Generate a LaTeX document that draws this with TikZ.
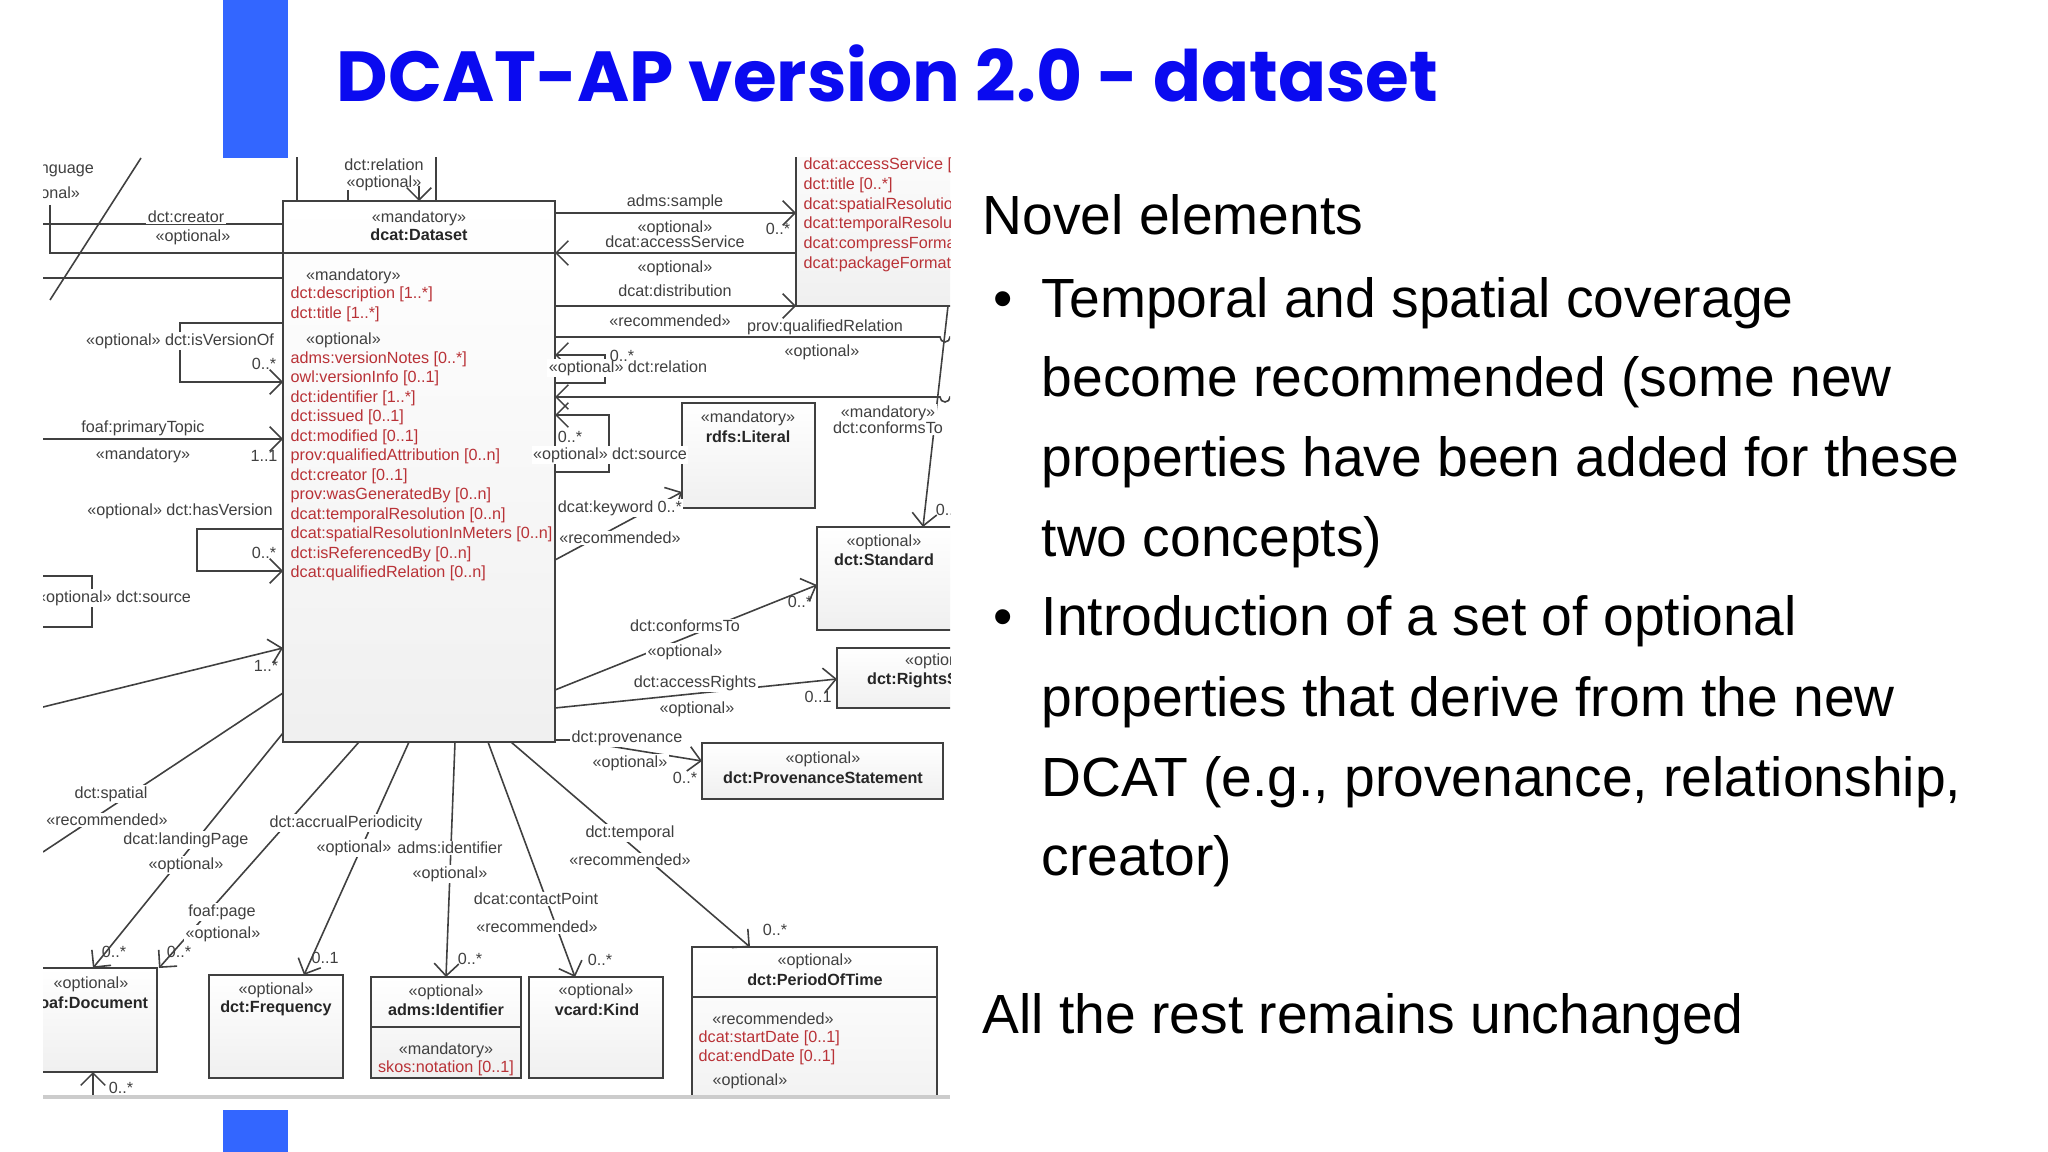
\documentclass[tikz,border=0pt]{standalone}
\usepackage{fontspec}
\usepackage{graphicx}
\setmainfont{Liberation Sans}
\newfontfamily\titlefont{Poppins}
\usetikzlibrary{arrows.meta}
\definecolor{barblue}{RGB}{51,102,255}
\definecolor{titleblue}{RGB}{10,10,240}
\definecolor{attrred}{RGB}{185,50,55}
\newcommand{\dfont}{\fontsize{4.6}{5}\selectfont}
\tikzset{
  ln/.style={draw=black!75, line width=0.45pt},
  ar/.style={-{Straight Barb[length=3.5pt,width=7pt]}},
  lb/.style={font=\dfont, text=black!75, inner sep=0.4pt},
  lbw/.style={lb, fill=white},
  bt/.style={font=\dfont\bfseries, text=black!85, inner sep=0.4pt},
  attr/.style={font=\dfont, text=attrred, anchor=west, inner sep=0},
  cls/.style={draw=black!75, line width=0.45pt, top color=white, bottom color=gray!12, inner sep=0},
  body/.style={font=\fontsize{15.7}{18}\selectfont, anchor=base west, inner sep=0}
}
\begin{document}
\begin{tikzpicture}[x=0.01cm,y=-0.01cm]
\useasboundingbox (0,0) rectangle (2048,1152);
\fill[white] (0,0) rectangle (2048,1152);
\fill[barblue] (223,0) rectangle (288,158);
\fill[barblue] (223,1110) rectangle (288,1152);
\node[anchor=base west, inner sep=0, text=titleblue] (title) at (336,102)
  {\resizebox{11.01cm}{!}{\titlefont\bfseries DCAT-AP version 2.0 - dataset}};

\begin{scope}
\clip (43,158) rectangle (950,1095);
% class boxes
\node[cls, minimum width=2.72cm, minimum height=5.41cm] (ds) at (419,471.5) {};
\draw[ln] (283,253) -- (555,253);
\node[cls, minimum width=1.84cm, minimum height=1.96cm] (dist) at (888,208) {};
\node[cls, minimum width=1.33cm, minimum height=1.05cm] (lit) at (748.5,455.5) {};
\node[cls, minimum width=1.73cm, minimum height=1.03cm] (std) at (903.5,578.5) {};
\node[cls, minimum width=1.63cm, minimum height=0.60cm] (rights) at (918.5,678) {};
\node[cls, minimum width=2.41cm, minimum height=0.56cm] (prov) at (822.5,771) {};
\node[cls, minimum width=2.45cm, minimum height=1.83cm] (pot) at (814.5,1038.5) {};
\draw[ln] (692,997) -- (937,997);
\node[cls, minimum width=1.34cm, minimum height=1.01cm] (kind) at (596,1027.5) {};
\node[cls, minimum width=1.50cm, minimum height=1.01cm] (ident) at (446,1027.5) {};
\draw[ln] (371,1027) -- (521,1027);
\node[cls, minimum width=1.34cm, minimum height=1.03cm] (freq) at (276,1026.5) {};
\node[cls, minimum width=1.37cm, minimum height=1.04cm] (doc) at (88.5,1020) {};

% dataset content
\node[lb] (dsst) at (419,218) {«mandatory»};
\node[bt] (dsname) at (419,235) {dcat:Dataset};
\node[lb, anchor=west] (m1) at (304,276) {«mandatory»};
\node[attr] (a1) at (290,294) {dct:description [1..*]};
\node[attr] (a2) at (290,314) {dct:title [1..*]};
\node[lb, anchor=west] (o1) at (304,340) {«optional»};
\node[attr] (a3) at (290,359) {adms:versionNotes [0..*]};
\node[attr] (a4) at (290,378) {owl:versionInfo [0..1]};
\node[attr] (a5) at (290,398) {dct:identifier [1..*]};
\node[attr] (a6) at (290,417) {dct:issued [0..1]};
\node[attr] (a7) at (290,437) {dct:modified [0..1]};
\node[attr] (a8) at (290,456) {prov:qualifiedAttribution [0..n]};
\node[attr] (a9) at (290,476) {dct:creator [0..1]};
\node[attr] (a10) at (290,495) {prov:wasGeneratedBy [0..n]};
\node[attr] (a11) at (290,515) {dcat:temporalResolution [0..n]};
\node[attr] (a12) at (290,534) {dcat:spatialResolutionInMeters [0..n]};
\node[attr] (a13) at (290,554) {dct:isReferencedBy [0..n]};
\node[attr] (a14) at (290,573) {dcat:qualifiedRelation [0..n]};

% distribution content
\node[attr] (d1) at (803,165) {dcat:accessService [0..*]};
\node[attr] (d2) at (803,185) {dct:title [0..*]};
\node[attr] (d3) at (803,205) {dcat:spatialResolutionInMeters};
\node[attr] (d4) at (803,224) {dcat:temporalResolution};
\node[attr] (d5) at (803,244) {dcat:compressFormat};
\node[attr] (d6) at (803,264) {dcat:packageFormat};

% other class texts
\node[lb] (litst) at (748,418) {«mandatory»};
\node[bt] (litn) at (748,437) {rdfs:Literal};
\node[lb] (stdst) at (884,542) {«optional»};
\node[bt] (stdn) at (884,560) {dct:Standard};
\node[lb, anchor=west] (rst) at (903,661) {«optional»};
\node[bt, anchor=west] (rn) at (865,680) {dct:RightsStatement};
\node[lb] (provst) at (823,759) {«optional»};
\node[bt] (provn) at (823,778) {dct:ProvenanceStatement};
\node[lb] (potst) at (815,961) {«optional»};
\node[bt] (potn) at (815,980) {dct:PeriodOfTime};
\node[lb] (potr) at (773,1019) {«recommended»};
\node[attr] (p1) at (698,1038) {dcat:startDate [0..1]};
\node[attr] (p2) at (698,1057) {dcat:endDate [0..1]};
\node[lb] (poto) at (750,1081) {«optional»};
\node[lb] (kst) at (596,991) {«optional»};
\node[bt] (kn) at (597,1010) {vcard:Kind};
\node[lb] (ist) at (446,992) {«optional»};
\node[bt] (in) at (446,1010) {adms:Identifier};
\node[lb] (imd) at (446,1050) {«mandatory»};
\node[attr, anchor=center] (inot) at (446,1068) {skos:notation [0..1]};
\node[lb] (fst) at (276,990) {«optional»};
\node[bt] (fn) at (276,1008) {dct:Frequency};
\node[lb] (dcst) at (91,984) {«optional»};
\node[bt] (dcn) at (91,1003) {foaf:Document};

% top connectors
\draw[ln] (297,150) -- (297,201);
\draw[ln] (348,190) -- (348,201);
\draw[ln] (436,150) -- (436,201);
\draw[ln,ar] (419,186) -- (419,201);
\node[lb] (rel1) at (384,165) {dct:relation};
\node[lb] (rel2) at (384,183) {«optional»};

% left connectors
\draw[ln] (141,158) -- (50,300);
\draw[ln] (43,224) -- (283,224);
\draw[ln] (50,205) -- (50,253) -- (283,253);
\draw[ln] (43,278) -- (283,278);
\node[lb, anchor=east] (lang1) at (96,169) {dct:language};
\node[lb, anchor=east] (lang2) at (82,194) {«optional»};
\node[lbw] (cr1) at (186,217) {dct:creator};
\node[lb] (cr2) at (193,237) {«optional»};

\draw[ln,ar] (283,323) -- (180,323) -- (180,382) -- (283,382);
\node[lbw] (ivo) at (180,341) {«optional» dct:isVersionOf};
\node[lb] (ivom) at (264,364) {0..*};
\draw[ln,ar] (43,439) -- (283,439);
\node[lb] (pt1) at (143,428) {foaf:primaryTopic};
\node[lb] (pt2) at (143,455) {«mandatory»};
\node[lb] (ptm) at (264,456) {1..1};
\draw[ln,ar] (283,529) -- (197,529) -- (197,571) -- (283,571);
\node[lbw] (hv) at (180,511) {«optional» dct:hasVersion};
\node[lb] (hvm) at (264,553) {0..*};
\draw[ln] (43,576) -- (92,576) -- (92,627) -- (43,627);
\node[lbw] (src1) at (114,598) {«optional» dct:source};
\draw[ln,ar] (43,707) -- (283,648);
\node[lb] (m1s) at (266,666) {1..*};
\draw[ln] (283,693) -- (43,852);
\node[lbw] (sp1) at (111,794) {dct:spatial};
\node[lbw] (sp2) at (107,820) {«recommended»};

% bottom connectors
\draw[ln,ar] (283,733) -- (93,968);
\node[lbw] (lp1) at (186,840) {dcat:landingPage};
\node[lbw] (lp2) at (186,865) {«optional»};
\node[lb] (lpm) at (114,952) {0..*};
\draw[ln,ar] (359,742) -- (159,968);
\node[lbw] (fp1) at (222,912) {foaf:page};
\node[lbw] (fp2) at (223,934) {«optional»};
\node[lb] (fpm) at (179,952) {0..*};
\draw[ln,ar] (409,742) -- (304,975);
\node[lbw] (ap1) at (346,823) {dct:accrualPeriodicity};
\node[lbw] (ap2) at (354,848) {«optional»};
\node[lb] (apm) at (325,958) {0..1};
\draw[ln,ar] (455,742) -- (446,977);
\node[lbw] (id1) at (450,848) {adms:identifier};
\node[lbw] (id2) at (450,874) {«optional»};
\node[lb] (idm) at (470,959) {0..*};
\draw[ln,ar] (488,742) -- (575,977);
\node[lbw] (cp1) at (536,899) {dcat:contactPoint};
\node[lbw] (cp2) at (537,927) {«recommended»};
\node[lb] (cpm) at (600,960) {0..*};
\draw[ln,ar] (511,742) -- (750,947);
\node[lbw] (tp1) at (630,833) {dct:temporal};
\node[lbw] (tp2) at (630,860) {«recommended»};
\node[lb] (tpm) at (775,930) {0..*};
\draw[ln,ar] (93,1100) -- (93,1072);
\node[lb] (bm) at (121,1088) {0..*};

% right connectors
\draw[ln,ar] (555,213) -- (796,213);
\node[lb] (sa1) at (675,202) {adms:sample};
\node[lb] (sam) at (778,229) {0..*};
\draw[ln,ar] (796,253) -- (555,253);
\node[lb] (as1) at (675,228) {«optional»};
\node[lb] (as2) at (675,242) {dcat:accessService};
\draw[ln,ar] (555,306) -- (796,306);
\node[lb] (di1) at (675,268) {«optional»};
\node[lb] (di2) at (675,291) {dcat:distribution};
\draw[ln] (555,337) -- (940,337) arc (180:0:5) -- (955,337);
\node[lb] (qr1) at (670,321) {«recommended»};
\node[lb] (qr2) at (825,327) {prov:qualifiedRelation};
\node[lb] (qr3) at (822,352) {«optional»};
\draw[ln,ar] (555,383) -- (605,383) -- (605,355) -- (555,355);
\node[lbw] (rl1) at (628,368) {«optional» dct:relation};
\node[lb] (rlm) at (622,356) {0..*};
\draw[ln,ar] (955,397) -- (950,397) arc (0:180:5) -- (555,397);
\draw[ln,ar] (555,472) -- (609,472) -- (609,415) -- (555,415);
\node[lb] (so1m) at (570,437) {0..*};
\node[lbw] (so1) at (610,455) {«optional» dct:source};
\draw[ln,ar] (555,560) -- (682,492);
\node[lbw] (kw1) at (620,508) {dcat:keyword 0..*};
\node[lbw] (kw2) at (620,538) {«recommended»};
\draw[ln,ar] (948,306) -- (923,527);
\node[lbw] (ct1) at (888,413) {«mandatory»};
\node[lbw] (ct2) at (888,428) {dct:conformsTo};
\node[lb] (ctm) at (948,510) {0..*};
\draw[ln,ar] (555,690) -- (817,585);
\node[lbw] (co1) at (685,626) {dct:conformsTo};
\node[lbw] (co2) at (685,652) {«optional»};
\node[lb] (com) at (800,602) {0..*};
\draw[ln,ar] (555,708) -- (837,679);
\node[lbw] (ri1) at (695,683) {dct:accessRights};
\node[lbw] (ri2) at (697,709) {«optional»};
\node[lb] (rim) at (818,697) {0..1};
\draw[ln,ar] (555,740) -- (572,740) -- (702,761);
\node[lbw] (pv1) at (627,738) {dct:provenance};
\node[lbw] (pv2) at (630,763) {«optional»};
\node[lb] (pvm) at (685,778) {0..*};
\end{scope}
\draw[gray!40, line width=1pt] (43,1097) -- (950,1097);

% right text
\node[body] (t0) at (982,235) {Novel elements};
\node[body] (b1) at (993,318) {•};
\node[body] (t1) at (1041,318) {Temporal and spatial coverage};
\node[body] (t2) at (1041,397) {become recommended (some new};
\node[body] (t3) at (1041,477) {properties have been added for these};
\node[body] (t4) at (1041,557) {two concepts)};
\node[body] (b2) at (993,636) {•};
\node[body] (t5) at (1041,636) {Introduction of a set of optional};
\node[body] (t6) at (1041,716) {properties that derive from the new};
\node[body] (t7) at (1041,796) {DCAT (e.g., provenance, relationship,};
\node[body] (t8) at (1041,875) {creator)};
\node[body] (t9) at (982,1033) {All the rest remains unchanged};
\end{tikzpicture}
\end{document}
